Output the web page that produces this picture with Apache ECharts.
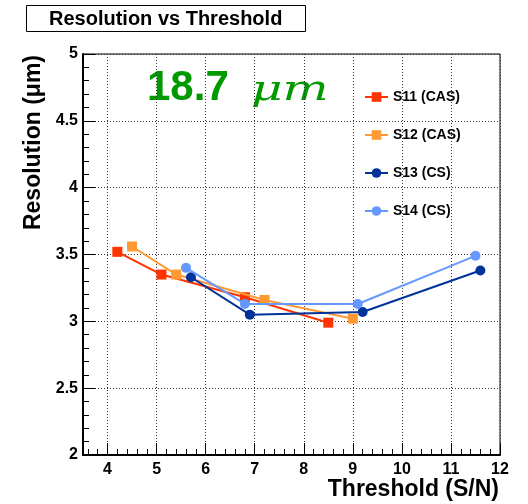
<!DOCTYPE html>
<html>
<head>
<meta charset="utf-8">
<script src="https://cdn.jsdelivr.net/npm/echarts@6/dist/echarts.min.js"></script>
<style>
  html, body { margin: 0; padding: 0; background: #fff; }
  #main { width: 528px; height: 504px; }
</style>
</head>
<body>
<div id="main"></div>
<script>
// threshold (S/N) and resolution (um) for each sensor
var thrS11 = [4.2, 5.1, 6.8, 8.5];
var resS11 = [3.52, 3.35, 3.18, 2.99];
var thrS12 = [4.5, 5.4, 7.2, 9.0];
var resS12 = [3.56, 3.35, 3.16, 3.02];
var thrS13 = [5.7, 6.9, 9.2, 11.6];
var resS13 = [3.33, 3.05, 3.07, 3.38];
var thrS14 = [5.6, 6.8, 9.1, 11.5];
var resS14 = [3.40, 3.13, 3.13, 3.49];

var seriesNames = ['S11 (CAS)', 'S12 (CAS)', 'S13 (CS)', 'S14 (CS)'];
var seriesColors = ['#ff3300', '#ff9933', '#003399', '#6699ff'];
var seriesSymbols = ['rect', 'rect', 'circle', 'circle'];

var FONT = '"Liberation Sans", Arial, Helvetica, sans-serif';

function pairs(xs, ys) {
  var out = [];
  for (var i = 0; i < xs.length; i++) {
    out.push([xs[i], ys[i]]);
  }
  return out;
}

var allData = [
  pairs(thrS11, resS11),
  pairs(thrS12, resS12),
  pairs(thrS13, resS13),
  pairs(thrS14, resS14)
];

var chart = echarts.init(document.getElementById('main'), null, { renderer: 'canvas' });

var series = allData.map(function (d, i) {
  return {
    name: seriesNames[i],
    type: 'line',
    data: d,
    symbol: seriesSymbols[i],
    symbolSize: 10,
    lineStyle: { color: seriesColors[i], width: 2 },
    itemStyle: { color: seriesColors[i] },
    z: 3 + i
  };
});

var option = {
  animation: false,
  backgroundColor: '#fff',
  title: {
    text: 'Resolution vs Threshold',
    left: 26,
    top: 5,
    borderColor: '#000',
    borderWidth: 1,
    padding: [4, 23, 3, 23],
    textStyle: {
      fontFamily: FONT,
      fontSize: 20,
      fontWeight: 'bold',
      color: '#000',
      lineHeight: 20
    }
  },
  legend: {
    orient: 'vertical',
    left: 364,
    top: 90,
    padding: 0,
    itemWidth: 23,
    itemHeight: 12,
    itemGap: 24,
    data: seriesNames,
    textStyle: {
      fontFamily: FONT,
      fontSize: 14,
      fontWeight: 'bold',
      color: '#000'
    }
  },
  grid: {
    left: 83,
    right: 28,
    top: 54,
    bottom: 49,
    show: true,
    borderColor: '#000',
    borderWidth: 1
  },
  xAxis: {
    type: 'value',
    min: 3.5,
    max: 12,
    splitNumber: 8,
    axisLine: { show: true, onZero: false, lineStyle: { color: '#000', width: 2 } },
    axisTick: { show: true, inside: true, length: 12, lineStyle: { color: '#000', width: 1 } },
    minorTick: { show: true, splitNumber: 5, length: 6, lineStyle: { color: '#000', width: 1 } },
    splitLine: { show: true, lineStyle: { color: '#333', width: 1, type: [1, 2] } },
    axisLabel: {
      showMinLabel: false,
      margin: 7,
      fontFamily: FONT,
      fontSize: 16,
      fontWeight: 'bold',
      color: '#000'
    }
  },
  yAxis: {
    type: 'value',
    min: 2,
    max: 5,
    interval: 0.5,
    axisLine: { show: true, onZero: false, lineStyle: { color: '#000', width: 2 } },
    axisTick: { show: true, inside: true, length: 12, lineStyle: { color: '#000', width: 1 } },
    minorTick: { show: true, splitNumber: 5, length: 6, lineStyle: { color: '#000', width: 1 } },
    splitLine: { show: true, lineStyle: { color: '#333', width: 1, type: [1, 2] } },
    axisLabel: {
      margin: 5,
      fontFamily: FONT,
      fontSize: 16,
      fontWeight: 'bold',
      color: '#000'
    }
  },
  graphic: [
    {
      type: 'text',
      x: 34,
      y: 55,
      rotation: Math.PI / 2,
      style: {
        text: 'Resolution (\u03bcm)',
        font: 'bold 23px ' + FONT,
        fill: '#000',
        textAlign: 'right',
        textVerticalAlign: 'middle'
      }
    },
    {
      type: 'text',
      x: 499,
      y: 490,
      style: {
        text: 'Threshold (S/N)',
        font: 'bold 23px ' + FONT,
        fill: '#000',
        textAlign: 'right',
        textVerticalAlign: 'middle'
      }
    },
    {
      type: 'text',
      x: 147,
      y: 88,
      style: {
        text: '18.7',
        font: 'bold 42px ' + FONT,
        fill: '#009a00',
        textAlign: 'left',
        textVerticalAlign: 'middle'
      }
    },
    {
      type: 'text',
      x: 251,
      y: 91,
      scaleX: 1.35,
      style: {
        text: '\u03bcm',
        font: 'italic 36px "DejaVu Serif", "Liberation Serif", serif',
        fill: '#009a00',
        textAlign: 'left',
        textVerticalAlign: 'middle'
      }
    }
  ],
  series: series
};

chart.setOption(option);
</script>
</body>
</html>
